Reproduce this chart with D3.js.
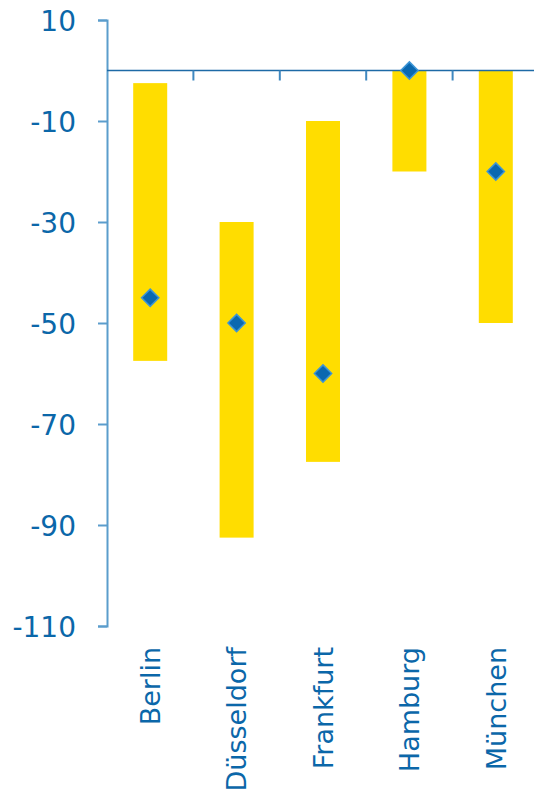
<!DOCTYPE html>
<meta charset="utf-8">
<head>
  <title>Range chart</title>
</head>
<style>
  body { margin: 0; background: #fff; }
  .lbl { font-family: "DejaVu Sans", Verdana, sans-serif; fill: #0b67a9; }
</style>
<body>
<script src="https://cdn.jsdelivr.net/npm/d3@7"></script>
<script>
// data
var cities = ["Berlin", "Düsseldorf", "Frankfurt", "Hamburg", "München"];
var rangeTop = [-2.5, -30, -10, 0, 0];
var rangeBottom = [-57.5, -92.5, -77.5, -20, -50];
var markValue = [-45, -50, -60, 0, -20];
var yTicks = [10, -10, -30, -50, -70, -90, -110];

var margin = {top: 20, right: -5, bottom: 175, left: 107},
    width = 534 - margin.left - margin.right,
    height = 801 - margin.top - margin.bottom;

var svg = d3.select("body").append("svg")
    .attr("width", 534)
    .attr("height", 801)
  .append("g")
    .attr("transform", "translate(" + margin.left + "," + margin.top + ")");

var xb = d3.scaleBand().domain(cities).range([0, width]);
var y = d3.scaleLinear().domain([-110, 10]).range([height, 0]);

// bars
svg.selectAll(".bar")
    .data(cities)
  .enter().append("rect")
    .attr("class", "bar")
    .attr("x", function(d) { return xb(d) + xb.bandwidth() / 2 - 17; })
    .attr("width", 34)
    .attr("y", function(d, i) { return y(rangeTop[i]); })
    .attr("height", function(d, i) { return y(rangeBottom[i]) - y(rangeTop[i]); })
    .attr("fill", "#ffdd00");

// y axis
var yAxis = svg.append("g")
    .call(d3.axisLeft(y).tickValues(yTicks).tickSize(9).tickPadding(22)
      .tickFormat(function(d) { return String(d); }));
yAxis.select(".domain").attr("stroke", "#5b9dcc").attr("stroke-width", 2);
yAxis.selectAll(".tick line").attr("stroke", "#5b9dcc").attr("stroke-width", 2);
yAxis.selectAll(".tick text")
    .attr("class", "lbl")
    .style("font-size", "28px")
    .attr("fill", "#0b67a9")
    .attr("dy", "0.36em");

// zero line with category ticks
var zero = svg.append("g").attr("transform", "translate(0," + y(0) + ")");
zero.append("line")
    .attr("x1", 0).attr("x2", width)
    .attr("stroke", "#1d6aa6").attr("stroke-width", 1.5);
zero.selectAll(".ct")
    .data(cities.slice(1))
  .enter().append("line")
    .attr("x1", function(d) { return xb(d); })
    .attr("x2", function(d) { return xb(d); })
    .attr("y1", 0).attr("y2", 10)
    .attr("stroke", "#3f88c0").attr("stroke-width", 2);

// markers
svg.selectAll(".mark")
    .data(cities)
  .enter().append("path")
    .attr("class", "mark")
    .attr("d", d3.symbol().type(d3.symbolDiamond2).size(190))
    .attr("transform", function(d, i) {
      return "translate(" + (xb(d) + xb.bandwidth() / 2) + "," + y(markValue[i]) + ")";
    })
    .attr("fill", "#0a68b0")
    .attr("stroke", "#3d95d6")
    .attr("stroke-width", 1.5);

// category labels
svg.selectAll(".cat")
    .data(cities)
  .enter().append("text")
    .attr("class", "lbl")
    .style("font-size", "27px")
    .attr("text-anchor", "end")
    .attr("transform", function(d) {
      return "translate(" + (xb(d) + xb.bandwidth() / 2) + "," + (height + 21) + ") rotate(-90)";
    })
    .attr("dy", "0.36em")
    .text(function(d) { return d; });
</script>
</body>
